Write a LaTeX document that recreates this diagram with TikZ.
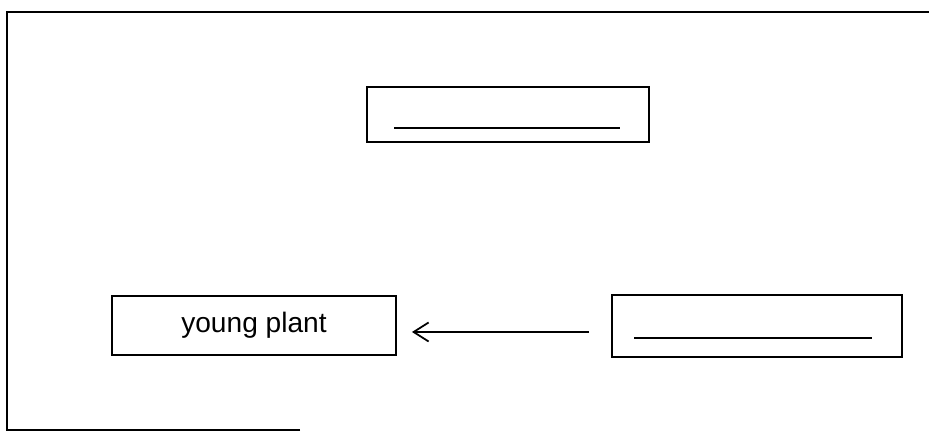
\documentclass[tikz,border=0pt]{standalone}
\usepackage{fontspec}
\setmainfont{Liberation Sans}
\usetikzlibrary{arrows.meta, positioning}

\tikzset{
	box/.style={draw, line width=1.1pt, inner sep=0pt, font=\fontsize{16}{19}\selectfont},
	blank/.style={line width=1.1pt},
	frameline/.style={line width=1.4pt}
}

\begin{document}
\begin{tikzpicture}

\useasboundingbox (0,0) rectangle (18.58,8.64);

% outer frame (left, top, part of bottom)
\draw[frameline] (6.0,0.04) -- (0.14,0.04) -- (0.14,8.40) -- (18.58,8.40);

\node[box, minimum width=5.64cm, minimum height=1.10cm] (top) at (10.16, 6.35) {};
\node[box, minimum width=5.68cm, minimum height=1.18cm] (plant) at (5.08, 2.13) {young plant};
\node[box, minimum width=5.80cm, minimum height=1.24cm] (seed) at (15.14, 2.12) {};

% blanks to fill in
\draw[blank] (7.88, 6.08) -- (12.40, 6.08);
\draw[blank] (12.68, 1.88) -- (17.44, 1.88);

\draw[line width=1pt, -{Straight Barb[length=0.30cm, width=0.38cm]}, shorten <=0.44cm, shorten >=0.30cm]
	([yshift=-0.12cm]seed.west) -- ([yshift=-0.13cm]plant.east);

\end{tikzpicture}
\end{document}
